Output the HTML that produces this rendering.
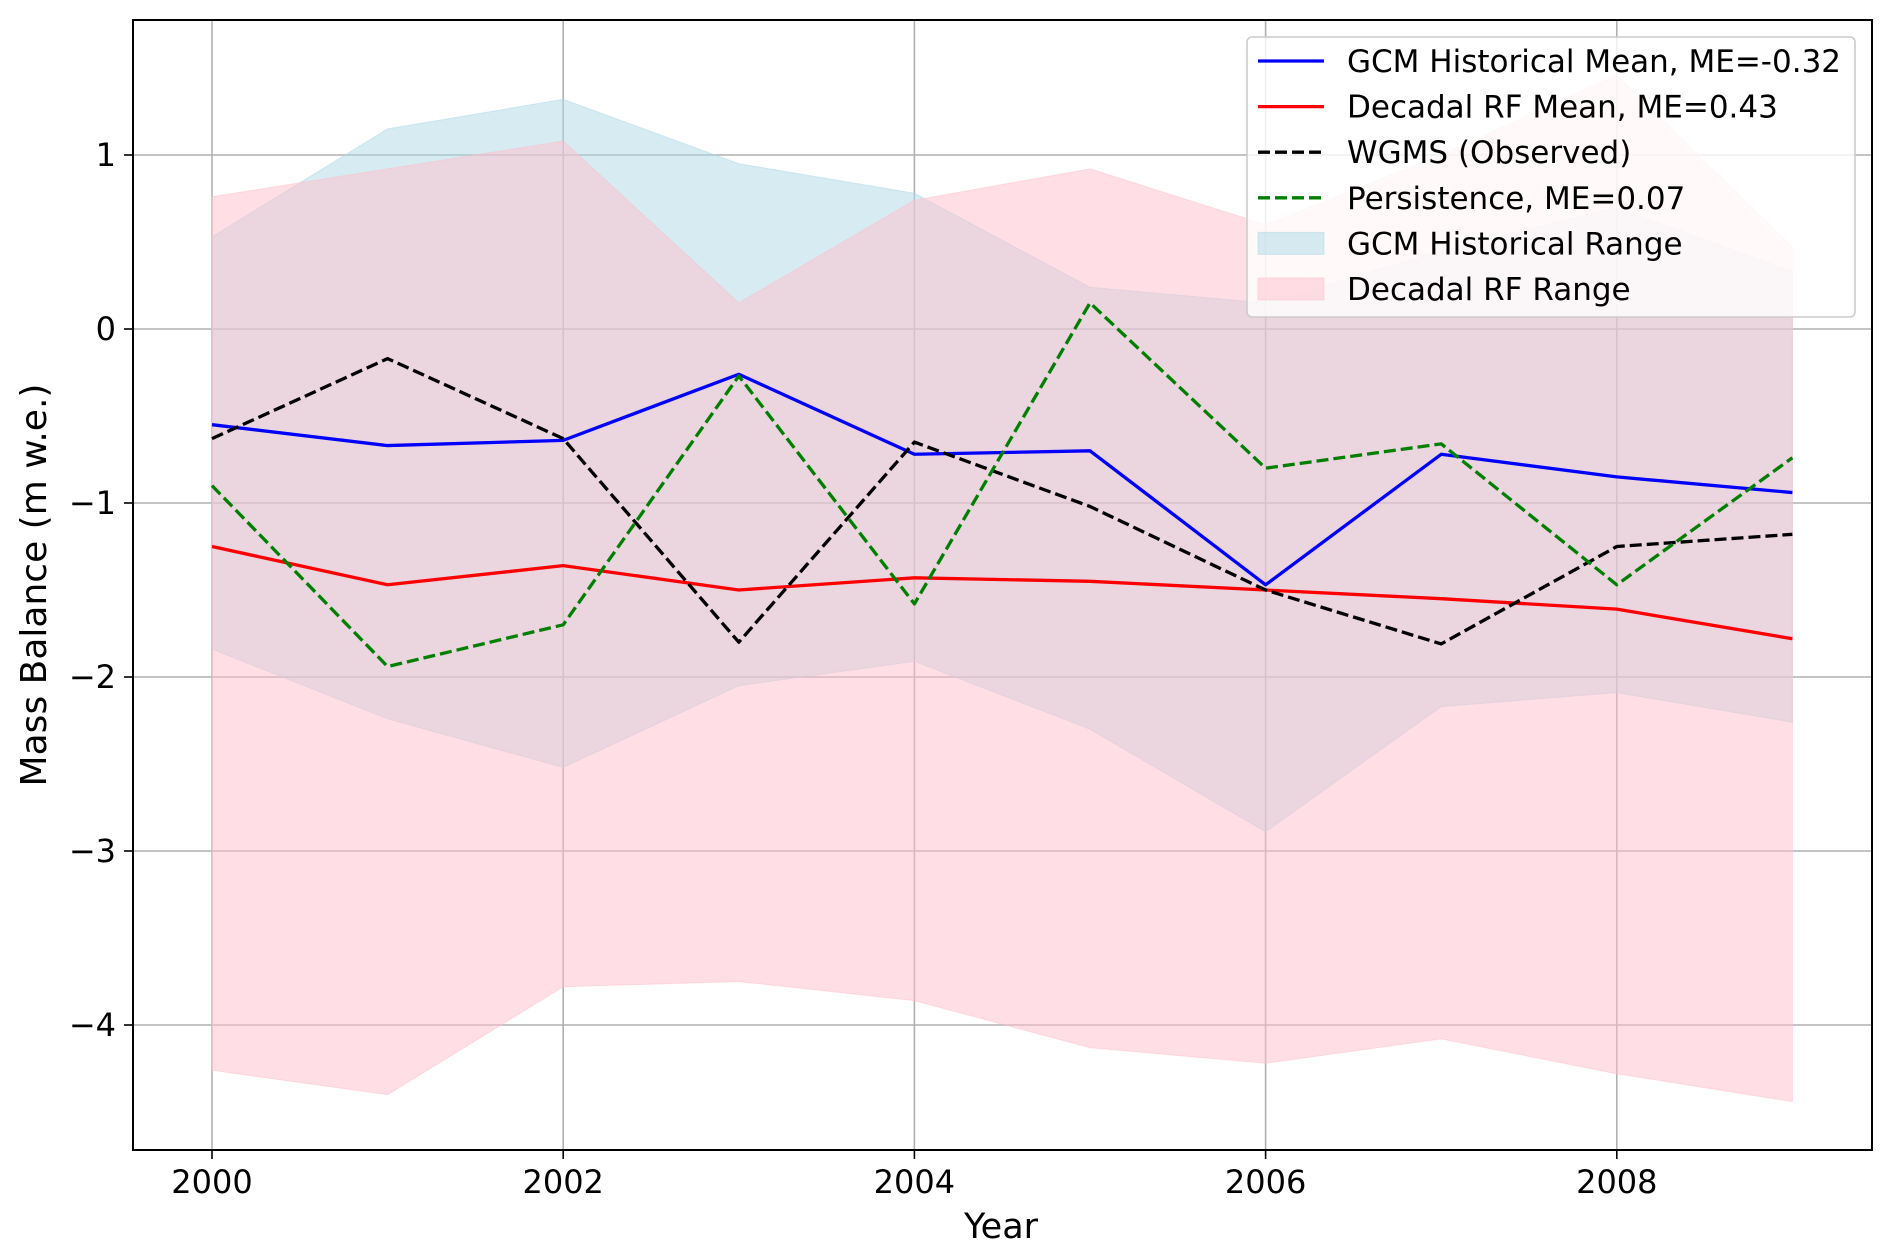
<!DOCTYPE html>
<html><head><meta charset="utf-8"><style>
html,body{margin:0;padding:0;background:#fff;}
svg{display:block;font-family:"DejaVu Sans","Liberation Sans",sans-serif;}
</style></head><body>
<svg id="chart" width="1892" height="1258" viewBox="0 0 1892 1258">
<g id="grid"></g>
<g id="areas"></g>
<g id="lines"></g>
<rect x="133" y="20" width="1739" height="1130" fill="none" stroke="#000" stroke-width="2"/>
<g id="ticks"></g>
<text x="1001" y="1238" font-size="35" text-anchor="middle">Year</text>
<text transform="translate(46,585) rotate(-90)" font-size="36" text-anchor="middle">Mass Balance (m w.e.)</text>
<g id="legend"></g>
</svg>
<script>
const years=[2000,2001,2002,2003,2004,2005,2006,2007,2008,2009];
const gcmMean=[-0.55,-0.67,-0.64,-0.26,-0.72,-0.70,-1.47,-0.72,-0.85,-0.94];
const rfMean=[-1.25,-1.47,-1.36,-1.50,-1.43,-1.45,-1.50,-1.55,-1.61,-1.78];
const wgms=[-0.63,-0.17,-0.63,-1.80,-0.65,-1.02,-1.50,-1.81,-1.25,-1.18];
const persistence=[-0.90,-1.94,-1.70,-0.27,-1.58,0.15,-0.80,-0.66,-1.47,-0.74];
const gcmUpper=[0.53,1.15,1.32,0.95,0.78,0.24,0.15,0.45,0.70,0.33];
const gcmLower=[-1.84,-2.24,-2.52,-2.05,-1.91,-2.30,-2.89,-2.17,-2.09,-2.26];
const rfUpper=[0.76,0.92,1.08,0.15,0.74,0.92,0.60,1.00,1.46,0.47];
const rfLower=[-4.26,-4.40,-3.78,-3.75,-3.86,-4.13,-4.22,-4.08,-4.28,-4.44];
const xTicks=[2000,2002,2004,2006,2008];
const yTicks=[1,0,-1,-2,-3,-4];
const legendLabels=["GCM Historical Mean, ME=-0.32","Decadal RF Mean, ME=0.43","WGMS (Observed)","Persistence, ME=0.07","GCM Historical Range","Decadal RF Range"];

const NS="http://www.w3.org/2000/svg";
const X=v=>212+(v-2000)*175.6;
const Y=v=>329-v*174;
function mk(tag,attrs,parent){const e=document.createElementNS(NS,tag);for(const k in attrs)e.setAttribute(k,attrs[k]);parent.appendChild(e);return e;}
const grid=document.getElementById('grid'),ticks=document.getElementById('ticks'),areas=document.getElementById('areas'),lines=document.getElementById('lines'),legend=document.getElementById('legend');

xTicks.forEach(t=>{
  const g=mk('line',{x1:X(t),x2:X(t),y1:20,y2:1150,stroke:'#b0b0b0','stroke-width':1.6},grid);
  
  
  const tk=mk('line',{x1:X(t),x2:X(t),y1:1150,y2:1159,stroke:'#000','stroke-width':1.6},ticks);
  
  
  const tl=mk('text',{x:X(t),y:1193,'font-size':32,'text-anchor':'middle'},ticks);
  tl.textContent=t;
  
  
});
yTicks.forEach(t=>{
  const g=mk('line',{x1:133,x2:1872,y1:Y(t),y2:Y(t),stroke:'#b0b0b0','stroke-width':1.6},grid);
  
  
  const tk=mk('line',{x1:124,x2:133,y1:Y(t),y2:Y(t),stroke:'#000','stroke-width':1.6},ticks);
  
  
  const tl=mk('text',{x:116,y:Y(t)+11,'font-size':32,'text-anchor':'end'},ticks);
  tl.textContent=t<0?'\u2212'+(-t):String(t);
  
  
});
function band(up,lo,color,name){
  let d=years.map((y,i)=>(i?'L':'M')+X(y)+','+Y(up[i])).join(' ');
  for(let i=years.length-1;i>=0;i--)d+=' L'+X(years[i])+','+Y(lo[i]);
  const p=mk('path',{d:d+' Z',fill:color,'fill-opacity':0.5,stroke:color,'stroke-opacity':0.5},areas);
  
  
}
band(gcmUpper,gcmLower,'#add8e6','gcm-historical-range');
band(rfUpper,rfLower,'#ffc0cb','decadal-rf-range');
function line(vals,color,dash,name){
  const p=mk('polyline',{points:years.map((y,i)=>X(y)+','+Y(vals[i])).join(' '),fill:'none',stroke:color,'stroke-width':3.3,'stroke-linejoin':'round'},lines);
  if(dash)p.setAttribute('stroke-dasharray',dash);
  
  
}
line(gcmMean,'#0000ff',null,'gcm-historical-mean-line');
line(rfMean,'#ff0000',null,'decadal-rf-mean-line');
line(wgms,'#000000','12,5','wgms-observed-line');
line(persistence,'#008000','12,5','persistence-line');

const lb=mk('rect',{x:1247,y:37,width:608,height:280,rx:5,fill:'#fff','fill-opacity':0.8,stroke:'#cccccc','stroke-width':1.6},legend);


const handles=[['#0000ff',null],['#ff0000',null],['#000','12,5'],['#008000','12,5'],['#add8e6','patch'],['#ffc0cb','patch']];
legendLabels.forEach((lab,i)=>{
  const y=61+i*45.6;
  const [c,d]=handles[i];
  let h;
  if(d==='patch'){h=mk('rect',{x:1258,y:y-11,width:66,height:22,fill:c,'fill-opacity':0.5,stroke:c,'stroke-opacity':0.5},legend);}
  else{h=mk('line',{x1:1258,x2:1324,y1:y,y2:y,stroke:c,'stroke-width':3.3},legend);if(d)h.setAttribute('stroke-dasharray',d);}
  
  
  const t=mk('text',{x:1347,y:y+11,'font-size':31},legend);
  t.textContent=lab;
  
  
});
</script>
</body></html>
